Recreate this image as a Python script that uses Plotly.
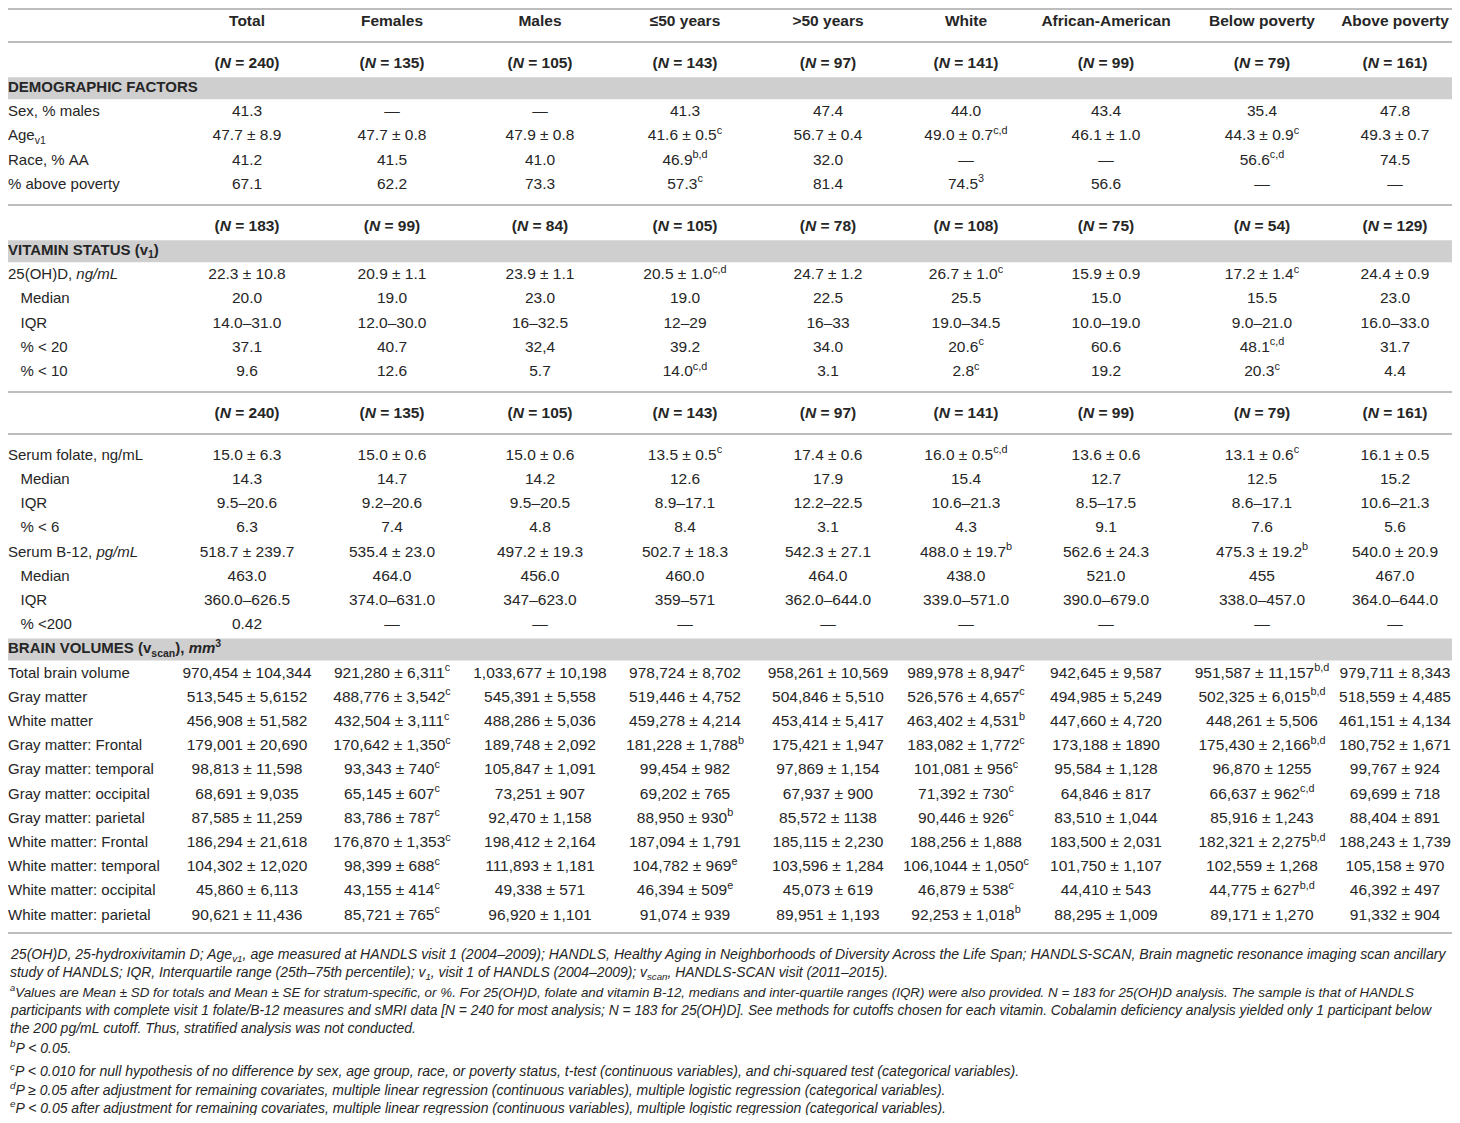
import plotly.graph_objects as go

# ---- data -------------------------------------------------------------
COLUMNS = ["Total", "Females", "Males", "≤50 years", ">50 years", "White",
           "African-American", "Below poverty", "Above poverty"]
N_ALL = [240, 135, 105, 143, 97, 141, 99, 79, 161]
N_VITD = [183, 99, 84, 105, 78, 108, 75, 54, 129]

DEMO_LABELS = ["Sex, % males", "Age<sub>v1</sub>", "Race, % AA", "% above poverty"]
SEX_MALES = ["41.3", "—", "—", "41.3", "47.4", "44.0", "43.4", "35.4", "47.8"]
AGE_V1 = ["47.7 ± 8.9", "47.7 ± 0.8", "47.9 ± 0.8", "41.6 ± 0.5<sup>c</sup>", "56.7 ± 0.4",
          "49.0 ± 0.7<sup>c,d</sup>", "46.1 ± 1.0", "44.3 ± 0.9<sup>c</sup>", "49.3 ± 0.7"]
RACE_AA = ["41.2", "41.5", "41.0", "46.9<sup>b,d</sup>", "32.0", "—", "—",
           "56.6<sup>c,d</sup>", "74.5"]
ABOVE_POV = ["67.1", "62.2", "73.3", "57.3<sup>c</sup>", "81.4", "74.5<sup>3</sup>", "56.6", "—", "—"]

VITD_LABELS = ["25(OH)D, <i>ng/mL</i>", "   Median", "   IQR", "   % &lt; 20", "   % &lt; 10"]
VITD_MEAN = ["22.3 ± 10.8", "20.9 ± 1.1", "23.9 ± 1.1", "20.5 ± 1.0<sup>c,d</sup>", "24.7 ± 1.2",
             "26.7 ± 1.0<sup>c</sup>", "15.9 ± 0.9", "17.2 ± 1.4<sup>c</sup>", "24.4 ± 0.9"]
VITD_MEDIAN = ["20.0", "19.0", "23.0", "19.0", "22.5", "25.5", "15.0", "15.5", "23.0"]
VITD_IQR = ["14.0–31.0", "12.0–30.0", "16–32.5", "12–29", "16–33", "19.0–34.5",
            "10.0–19.0", "9.0–21.0", "16.0–33.0"]
VITD_LT20 = ["37.1", "40.7", "32,4", "39.2", "34.0", "20.6<sup>c</sup>", "60.6",
             "48.1<sup>c,d</sup>", "31.7"]
VITD_LT10 = ["9.6", "12.6", "5.7", "14.0<sup>c,d</sup>", "3.1", "2.8<sup>c</sup>", "19.2",
             "20.3<sup>c</sup>", "4.4"]

FOL_LABELS = ["Serum folate, ng/mL", "   Median", "   IQR", "   % &lt; 6",
              "Serum B-12, <i>pg/mL</i>", "   Median", "   IQR", "   % &lt;200"]
FOLATE_MEAN = ["15.0 ± 6.3", "15.0 ± 0.6", "15.0 ± 0.6", "13.5 ± 0.5<sup>c</sup>", "17.4 ± 0.6",
               "16.0 ± 0.5<sup>c,d</sup>", "13.6 ± 0.6", "13.1 ± 0.6<sup>c</sup>", "16.1 ± 0.5"]
FOLATE_MEDIAN = ["14.3", "14.7", "14.2", "12.6", "17.9", "15.4", "12.7", "12.5", "15.2"]
FOLATE_IQR = ["9.5–20.6", "9.2–20.6", "9.5–20.5", "8.9–17.1", "12.2–22.5", "10.6–21.3",
              "8.5–17.5", "8.6–17.1", "10.6–21.3"]
FOLATE_LT6 = ["6.3", "7.4", "4.8", "8.4", "3.1", "4.3", "9.1", "7.6", "5.6"]
B12_MEAN = ["518.7 ± 239.7", "535.4 ± 23.0", "497.2 ± 19.3", "502.7 ± 18.3", "542.3 ± 27.1",
            "488.0 ± 19.7<sup>b</sup>", "562.6 ± 24.3", "475.3 ± 19.2<sup>b</sup>", "540.0 ± 20.9"]
B12_MEDIAN = ["463.0", "464.0", "456.0", "460.0", "464.0", "438.0", "521.0", "455", "467.0"]
B12_IQR = ["360.0–626.5", "374.0–631.0", "347–623.0", "359–571", "362.0–644.0",
           "339.0–571.0", "390.0–679.0", "338.0–457.0", "364.0–644.0"]
B12_LT200 = ["0.42", "—", "—", "—", "—", "—", "—", "—", "—"]

BRAIN_LABELS = ["Total brain volume", "Gray matter", "White matter", "Gray matter: Frontal",
                "Gray matter: temporal", "Gray matter: occipital", "Gray matter: parietal",
                "White matter: Frontal", "White matter: temporal", "White matter: occipital",
                "White matter: parietal"]
TOTAL_BRAIN = ["970,454 ± 104,344", "921,280 ± 6,311<sup>c</sup>", "1,033,677 ± 10,198",
               "978,724 ± 8,702", "958,261 ± 10,569", "989,978 ± 8,947<sup>c</sup>",
               "942,645 ± 9,587", "951,587 ± 11,157<sup>b,d</sup>", "979,711 ± 8,343"]
GRAY = ["513,545 ± 5,6152", "488,776 ± 3,542<sup>c</sup>", "545,391 ± 5,558", "519,446 ± 4,752",
        "504,846 ± 5,510", "526,576 ± 4,657<sup>c</sup>", "494,985 ± 5,249",
        "502,325 ± 6,015<sup>b,d</sup>", "518,559 ± 4,485"]
WHITE = ["456,908 ± 51,582", "432,504 ± 3,111<sup>c</sup>", "488,286 ± 5,036", "459,278 ± 4,214",
         "453,414 ± 5,417", "463,402 ± 4,531<sup>b</sup>", "447,660 ± 4,720", "448,261 ± 5,506",
         "461,151 ± 4,134"]
GRAY_FRONTAL = ["179,001 ± 20,690", "170,642 ± 1,350<sup>c</sup>", "189,748 ± 2,092",
                "181,228 ± 1,788<sup>b</sup>", "175,421 ± 1,947", "183,082 ± 1,772<sup>c</sup>",
                "173,188 ± 1890", "175,430 ± 2,166<sup>b,d</sup>", "180,752 ± 1,671"]
GRAY_TEMPORAL = ["98,813 ± 11,598", "93,343 ± 740<sup>c</sup>", "105,847 ± 1,091", "99,454 ± 982",
                 "97,869 ± 1,154", "101,081 ± 956<sup>c</sup>", "95,584 ± 1,128", "96,870 ± 1255",
                 "99,767 ± 924"]
GRAY_OCCIPITAL = ["68,691 ± 9,035", "65,145 ± 607<sup>c</sup>", "73,251 ± 907", "69,202 ± 765",
                  "67,937 ± 900", "71,392 ± 730<sup>c</sup>", "64,846 ± 817",
                  "66,637 ± 962<sup>c,d</sup>", "69,699 ± 718"]
GRAY_PARIETAL = ["87,585 ± 11,259", "83,786 ± 787<sup>c</sup>", "92,470 ± 1,158",
                 "88,950 ± 930<sup>b</sup>", "85,572 ± 1138", "90,446 ± 926<sup>c</sup>",
                 "83,510 ± 1,044", "85,916 ± 1,243", "88,404 ± 891"]
WHITE_FRONTAL = ["186,294 ± 21,618", "176,870 ± 1,353<sup>c</sup>", "198,412 ± 2,164",
                 "187,094 ± 1,791", "185,115 ± 2,230", "188,256 ± 1,888", "183,500 ± 2,031",
                 "182,321 ± 2,275<sup>b,d</sup>", "188,243 ± 1,739"]
WHITE_TEMPORAL = ["104,302 ± 12,020", "98,399 ± 688<sup>c</sup>", "111,893 ± 1,181",
                  "104,782 ± 969<sup>e</sup>", "103,596 ± 1,284", "106,1044 ± 1,050<sup>c</sup>",
                  "101,750 ± 1,107", "102,559 ± 1,268", "105,158 ± 970"]
WHITE_OCCIPITAL = ["45,860 ± 6,113", "43,155 ± 414<sup>c</sup>", "49,338 ± 571",
                   "46,394 ± 509<sup>e</sup>", "45,073 ± 619", "46,879 ± 538<sup>c</sup>",
                   "44,410 ± 543", "44,775 ± 627<sup>b,d</sup>", "46,392 ± 497"]
WHITE_PARIETAL = ["90,621 ± 11,436", "85,721 ± 765<sup>c</sup>", "96,920 ± 1,101", "91,074 ± 939",
                  "89,951 ± 1,193", "92,253 ± 1,018<sup>b</sup>", "88,295 ± 1,009",
                  "89,171 ± 1,270", "91,332 ± 904"]

FOOTNOTES = [
    "25(OH)D, 25-hydroxivitamin D; Age<sub>v1</sub>, age measured at HANDLS visit 1 (2004–2009); HANDLS, Healthy Aging in Neighborhoods of Diversity Across the Life Span; HANDLS-SCAN, Brain magnetic resonance imaging scan ancillary",
    "study of HANDLS; IQR, Interquartile range (25th–75th percentile); v<sub>1</sub>, visit 1 of HANDLS (2004–2009); v<sub>scan</sub>, HANDLS-SCAN visit (2011–2015).",
    "<sup>a</sup>Values are Mean ± SD for totals and Mean ± SE for stratum-specific, or %. For 25(OH)D, folate and vitamin B-12, medians and inter-quartile ranges (IQR) were also provided. N = 183 for 25(OH)D analysis. The sample is that of HANDLS",
    "participants with complete visit 1 folate/B-12 measures and sMRI data [N = 240 for most analysis; N = 183 for 25(OH)D]. See methods for cutoffs chosen for each vitamin. Cobalamin deficiency analysis yielded only 1 participant below",
    "the 200 pg/mL cutoff. Thus, stratified analysis was not conducted.",
    "<sup>b</sup>P &lt; 0.05.",
    "<sup>c</sup>P &lt; 0.010 for null hypothesis of no difference by sex, age group, race, or poverty status, t-test (continuous variables), and chi-squared test (categorical variables).",
    "<sup>d</sup>P ≥ 0.05 after adjustment for remaining covariates, multiple linear regression (continuous variables), multiple logistic regression (categorical variables).",
    "<sup>e</sup>P &lt; 0.05 after adjustment for remaining covariates, multiple linear regression (continuous variables), multiple logistic regression (categorical variables).",
]

# ---- layout (axis units = screen pixels; the page body has an 8px margin)
W, H = 1460, 1123
PAD = 8
RIGHT = 1452          # visible right edge of the page
ROW_H = 24.2
FONT = "Liberation Sans, Arial, sans-serif"
TXT = "#262626"
GRAY_FILL = "#cfcfd0"
RULE = "#bdbdbd"
COL_X = [247, 392, 540, 685, 828, 966, 1106, 1262, 1395]
LABEL_X = 8
HEAD_Y = 22
SEC1_Y, SEC2_Y, SEC3_N_Y, SEC3_Y = 64, 227, 414, 456
RULES_Y = [9, 42, 205, 392, 434, 933]
FOOT_Y = [955, 973, 991, 1010, 1028, 1047, 1070, 1089, 1107]
FOOT_SIZE = [14.1, 13.9, 13.4, 13.8, 14.0, 14.0, 14.1, 14.0, 14.0]

lab_x, lab_y, lab_t = [], [], []
val_x, val_y, val_t = [], [], []
bands = []


def nb(s):
    return s.replace(" ", "\u00a0")


def add_row(label, values, y, bold=False):
    if label:
        lab_x.append(LABEL_X)
        lab_y.append(y)
        lab_t.append(nb(label))
    for cx, v in zip(COL_X, values):
        val_x.append(cx)
        val_y.append(y)
        val_t.append(("<b>%s</b>" % v) if bold else v)


def n_row(ns):
    return ["(<i>N</i> = %d)" % n for n in ns]


add_row("", COLUMNS, HEAD_Y, bold=True)

# demographics
rows1 = [("", n_row(N_ALL), True), ("<b>DEMOGRAPHIC FACTORS</b>", None, False),
         (DEMO_LABELS[0], SEX_MALES, False), (DEMO_LABELS[1], AGE_V1, False),
         (DEMO_LABELS[2], RACE_AA, False), (DEMO_LABELS[3], ABOVE_POV, False)]
# vitamin D
rows2 = [("", n_row(N_VITD), True), ("<b>VITAMIN STATUS (v<sub>1</sub>)</b>", None, False)]
rows2 += [(lab, vals, False) for lab, vals in
          zip(VITD_LABELS, [VITD_MEAN, VITD_MEDIAN, VITD_IQR, VITD_LT20, VITD_LT10])]
# folate / B-12 / brain
fol = [FOLATE_MEAN, FOLATE_MEDIAN, FOLATE_IQR, FOLATE_LT6, B12_MEAN, B12_MEDIAN, B12_IQR, B12_LT200]
brain = [TOTAL_BRAIN, GRAY, WHITE, GRAY_FRONTAL, GRAY_TEMPORAL, GRAY_OCCIPITAL, GRAY_PARIETAL,
         WHITE_FRONTAL, WHITE_TEMPORAL, WHITE_OCCIPITAL, WHITE_PARIETAL]
rows3 = [(lab, vals, False) for lab, vals in zip(FOL_LABELS, fol)]
rows3.append(("<b>BRAIN VOLUMES (v<sub>scan</sub>), <i>mm</i><sup>3</sup></b>", None, False))
rows3 += [(lab, vals, False) for lab, vals in zip(BRAIN_LABELS, brain)]

add_row("", n_row(N_ALL), SEC3_N_Y, bold=True)
for y0, rows in [(SEC1_Y, rows1), (SEC2_Y, rows2), (SEC3_Y, rows3)]:
    for k, (lab, vals, bold) in enumerate(rows):
        y = y0 + k * ROW_H
        if vals is None:
            bands.append(y)
            add_row(lab, [], y)
        else:
            add_row(lab, vals, y, bold)

fig = go.Figure()
fig.add_trace(go.Scatter(x=val_x, y=val_y, text=val_t, mode="text",
                         textposition="middle center", cliponaxis=False, hoverinfo="skip",
                         textfont=dict(family=FONT, size=15.5, color=TXT)))
fig.add_trace(go.Scatter(x=lab_x, y=lab_y, text=lab_t, mode="text",
                         textposition="middle right", cliponaxis=False, hoverinfo="skip",
                         textfont=dict(family=FONT, size=15, color=TXT)))

for y in bands:
    fig.add_shape(type="rect", xref="x", yref="y", x0=3, x1=RIGHT, y0=y - 11, y1=y + 11,
                  fillcolor=GRAY_FILL, line=dict(width=0), layer="below")
for y in RULES_Y:
    fig.add_shape(type="line", xref="x", yref="y", x0=3, x1=RIGHT, y0=y, y1=y,
                  line=dict(color=RULE, width=2))

for txt, y, sz in zip(FOOTNOTES, FOOT_Y, FOOT_SIZE):
    fig.add_annotation(text="<i>%s</i>" % txt, xref="paper", yref="y", x=0, y=y,
                       xanchor="left", yanchor="middle", showarrow=False,
                       font=dict(family=FONT, size=sz, color=TXT))

fig.update_layout(
    width=RIGHT - PAD, height=H - 2 * PAD, margin=dict(l=0, r=0, t=0, b=0),
    paper_bgcolor="white", plot_bgcolor="white", showlegend=False,
    xaxis=dict(range=[PAD, RIGHT], visible=False, fixedrange=True),
    yaxis=dict(range=[H - PAD, PAD], visible=False, fixedrange=True),
)

fig.write_html("out.html")
